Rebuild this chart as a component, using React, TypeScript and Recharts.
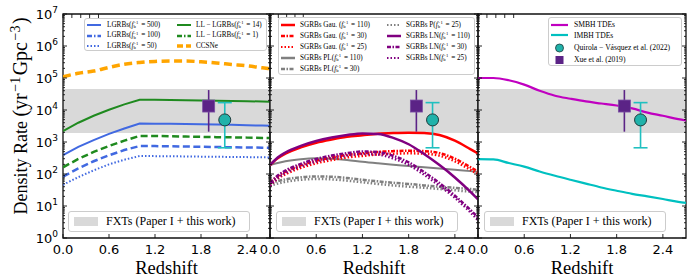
import React from 'react';
import { ComposedChart, Line, Scatter, ErrorBar, XAxis, YAxis, ReferenceArea } from 'recharts';

// redshift grids
const Z_A = [0, 0.2, 0.4, 0.6, 0.8, 1.0, 1.2, 1.4, 1.6, 1.8, 2.0, 2.2, 2.4, 2.6, 2.7];
const Z_B = [0, 0.1, 0.2, 0.4, 0.6, 0.8, 1.0, 1.2, 1.4, 1.6, 1.8, 2.0, 2.2, 2.4, 2.6, 2.7];

// panel 1: LGRBs / LL-LGRBs / CCSNe
const LGRB_500 = [390, 700, 1150, 1800, 2650, 3800, 3750, 3700, 3630, 3560, 3500, 3430, 3350, 3250, 3200];
const LGRB_100 = [83, 150, 250, 385, 560, 750, 745, 735, 722, 710, 697, 685, 675, 665, 660];
const LGRB_50 = [46, 80, 130, 200, 280, 365, 362, 358, 354, 349, 345, 341, 337, 332, 330];
const LL_14 = [2200, 4000, 6600, 10200, 15000, 21000, 20800, 20500, 20200, 19800, 19500, 19100, 18800, 18400, 18200];
const LL_1 = [162, 295, 490, 750, 1100, 1550, 1540, 1510, 1480, 1450, 1420, 1400, 1370, 1340, 1330];
const CCSNE = [110000, 140000, 165000, 215000, 270000, 305000, 330000, 340000, 340000, 320000, 295000, 265000, 240000, 208000, 195000];

// panel 2: SGRBs
const GAU_110 = [190, 310, 430, 680, 950, 1200, 1450, 1620, 1800, 1900, 1950, 1900, 1650, 1100, 600, 440];
const GAU_30 = [52, 85, 118, 186, 260, 328, 396, 442, 491, 519, 532, 519, 450, 300, 164, 120];
const GAU_25 = [43, 72, 98, 155, 216, 272, 329, 368, 409, 431, 443, 431, 375, 250, 136, 100];
const PL_110 = [190, 220, 250, 290, 308, 300, 275, 240, 215, 195, 178, 162, 148, 135, 123, 117];
const PL_30 = [52, 60, 68, 79, 84, 82, 75, 66, 59, 53, 49, 44, 40, 37, 34, 32];
const P_25 = [43, 50, 57, 66, 70, 68, 62, 55, 49, 44, 40, 37, 34, 31, 28, 27];
const LN_110 = [190, 330, 470, 760, 1080, 1380, 1650, 1850, 1780, 1350, 850, 420, 190, 78, 28, 16];
const LN_30 = [52, 90, 128, 207, 295, 377, 450, 505, 486, 369, 232, 115, 52, 21, 7.6, 4.4];
const LN_25 = [43, 75, 107, 172, 245, 313, 375, 420, 404, 306, 193, 95, 43, 18, 6.4, 3.6];

// panel 3: TDEs
const SMBH = [100000, 100000, 85000, 62000, 40000, 28000, 22500, 18500, 16000, 13800, 11200, 8300, 6600, 5200, 4700];
const IMBH = [290, 285, 220, 170, 120, 88, 66, 50, 38, 30, 24, 20, 16.5, 13.5, 12.6];

// observations
const XUE = [{ z: 1.9, v: 13300, err: [11200, 28700] }];
const QUIROLA = [{ z: 2.11, v: 4900, err: [4240, 12100] }];

// FXT band
const FXT_LOW = 1900;
const FXT_HIGH = 45000;

const X_TICKS = [0, 0.6, 1.2, 1.8, 2.4];
const Y_MAJOR = [1, 10, 100, 1000, 10000, 100000, 1000000, 10000000];
const Y_ALL = [...Y_MAJOR, ...Y_MAJOR.slice(0, 7).flatMap((d) => [2, 3, 4, 5, 6, 7, 8, 9].map((m) => m * d))].sort((a, b) => a - b);

const rows1 = Z_A.map((z, i) => ({
  z, lgrb500: LGRB_500[i], lgrb100: LGRB_100[i], lgrb50: LGRB_50[i], ll14: LL_14[i], ll1: LL_1[i], ccsne: CCSNE[i],
}));
const rows2 = Z_B.map((z, i) => ({
  z, gau110: GAU_110[i], gau30: GAU_30[i], gau25: GAU_25[i], pl110: PL_110[i], pl30: PL_30[i], p25: P_25[i],
  ln110: LN_110[i], ln30: LN_30[i], ln25: LN_25[i],
}));
const rows3 = Z_A.map((z, i) => ({ z, smbh: SMBH[i], imbh: IMBH[i] }));

const SERIF = '"Liberation Serif", serif';
const SANS = '"DejaVu Sans", sans-serif';
const FRAME = '#111';
const BAND = '#d9d9d9';

const C = {
  blue: '#4169e1', green: '#1f8a1f', orange: '#ffa500', red: '#ff0000', gray: '#808080',
  purple: '#800080', magenta: '#c000c0', cyan: '#00c0c0', teal: '#20b2aa', indigo: '#5b2386',
};
const DASH = '7 3.5';
const DOT = '1.5 2';
const DASHDOT = '4 1.5 1.5 1.5';

const isMajor = (v: number) => Math.abs(Math.log10(v) - Math.round(Math.log10(v))) < 1e-6;

// ticks point into the plot; the axis hands us the edge coordinate (tickSize 0, tickMargin 0)
const YTicks = (side: 'left' | 'right', labels: boolean) => (p: any) => {
  const v = Number(p.payload.value);
  const major = isMajor(v);
  const len = (major ? 4 : 2) * (side === 'left' ? 1 : -1);
  return (
    <g>
      <line x1={p.x} x2={p.x + len} y1={p.y} y2={p.y} stroke={FRAME} strokeWidth={0.9} />
      {labels && major && (
        <text x={p.x - 5} y={p.y + 5} textAnchor="end" fontFamily={SANS} fontSize={13} fill="#000">
          10<tspan dy={-6} fontSize={9}>{Math.round(Math.log10(v))}</tspan>
        </text>
      )}
    </g>
  );
};

const XTicks = (side: 'top' | 'bottom') => (p: any) => (
  <g>
    <line x1={p.x} x2={p.x} y1={p.y} y2={p.y + (side === 'top' ? 4 : -4)} stroke={FRAME} strokeWidth={0.9} />
    {side === 'bottom' && (
      <text x={p.x} y={p.y + 15.5} textAnchor="middle" fontFamily={SANS} fontSize={13} fill="#000">
        {Number(p.payload.value).toFixed(1)}
      </text>
    )}
  </g>
);

const axes = (leftLabels: boolean) => [
  <XAxis key="xb" dataKey="z" type="number" domain={[0, 2.7]} ticks={X_TICKS} interval={0} allowDataOverflow
    height={42} tickLine={false} axisLine={false} tickSize={0} tickMargin={0} tick={XTicks('bottom')} />,
  <XAxis key="xt" xAxisId="t" orientation="top" type="number" domain={[0, 2.7]} ticks={X_TICKS} interval={0} allowDataOverflow
    height={1} tickLine={false} axisLine={false} tickSize={0} tickMargin={0} tick={XTicks('top')} />,
  <YAxis key="yl" type="number" scale="log" domain={[1, 1e7]} ticks={Y_ALL} interval={0} allowDataOverflow
    width={leftLabels ? 63 : 1} tickLine={false} axisLine={false} tickSize={0} tickMargin={0} tick={YTicks('left', leftLabels)} />,
  <YAxis key="yr" yAxisId="r" orientation="right" type="number" scale="log" domain={[1, 1e7]} ticks={Y_ALL} interval={0} allowDataOverflow
    width={1} tickLine={false} axisLine={false} tickSize={0} tickMargin={0} tick={YTicks('right', false)} />,
];

const band = () => <ReferenceArea y1={FXT_LOW} y2={FXT_HIGH} fill={BAND} fillOpacity={1} stroke="none" ifOverflow="visible" />;
const frame = () => <ReferenceArea x1={0} x2={2.7} y1={1} y2={1e7} fill="none" fillOpacity={0} stroke={FRAME} strokeWidth={1.3} ifOverflow="visible" />;

const observations = () => [
  <Scatter key="xue" data={XUE} dataKey="v" isAnimationActive={false}
    shape={(p: any) => <rect x={p.cx - 6} y={p.cy - 6} width={12} height={12} fill={C.indigo} stroke="#7a4ea3" strokeWidth={0.8} />}>
    <ErrorBar dataKey="err" direction="y" width={0} stroke={C.indigo} strokeWidth={1.6} />
  </Scatter>,
  <Scatter key="quirola" data={QUIROLA} dataKey="v" isAnimationActive={false}
    shape={(p: any) => <circle cx={p.cx} cy={p.cy} r={6} fill={C.teal} stroke="#1d3b3b" strokeWidth={1} />}>
    <ErrorBar dataKey="err" direction="y" width={7} stroke="#20c0c0" strokeWidth={1.6} />
  </Scatter>,
];

const ln = (key: string, color: string, width: number, dash?: string, type: any = 'monotone') => (
  <Line key={key} dataKey={key} type={type} stroke={color} strokeWidth={width} strokeDasharray={dash} dot={false} isAnimationActive={false} />
);

// ---- legend helpers ----
type Sty = { color: string; width: number; dash?: string; marker?: 'circle' | 'square' };

const Fb = ({ v }: { v: string }) => (
  <>
    <i>f</i>
    <span style={{ display: 'inline-flex', flexDirection: 'column', fontSize: '0.65em', lineHeight: 0.85, verticalAlign: 'middle', marginRight: 1 }}>
      <span>−1</span>
      <span>b</span>
    </span>
    {' = ' + v + ')'}
  </>
);

const Item = ({ x, y, w, tx, s, children, fs }: { x: number; y: number; w: number; tx: number; s: Sty; children: any; fs: number }) => (
  <>
    <svg width={w} height={10} style={{ position: 'absolute', left: x, top: y - 5 }}>
      {s.marker === 'circle' ? (
        <circle cx={w / 2} cy={5} r={4} fill={C.teal} stroke="#1d3b3b" strokeWidth={0.8} />
      ) : s.marker === 'square' ? (
        <rect x={w / 2 - 4} y={1} width={8} height={8} fill={C.indigo} />
      ) : (
        <line x1={0} y1={5} x2={w} y2={5} stroke={s.color} strokeWidth={s.width} strokeDasharray={s.dash} />
      )}
    </svg>
    <div style={{ position: 'absolute', left: tx, top: y - fs * 0.62, fontFamily: SERIF, fontSize: fs, lineHeight: 1.2, whiteSpace: 'nowrap', color: '#000' }}>
      {children}
    </div>
  </>
);

const Box = ({ left, top, width, height, children }: any) => (
  <div style={{ position: 'absolute', left, top, width, height, background: 'rgba(255,255,255,0.85)', border: '1px solid #cccccc', borderRadius: 3, boxSizing: 'border-box' }}>
    {children}
  </div>
);

const FxtLegend = ({ left }: { left: number }) => (
  <Box left={left} top={211} width={182} height={21}>
    <div style={{ position: 'absolute', left: 5, top: 5, width: 24, height: 9, background: BAND }} />
    <div style={{ position: 'absolute', left: 37, top: 2, fontFamily: SERIF, fontSize: 12, whiteSpace: 'nowrap' }}>FXTs (Paper I + this work)</div>
  </Box>
);

const PANEL_CENTERS = [166.5, 374, 582];

export default function App() {
  return (
    <div style={{ position: 'absolute', left: 0, top: 0, width: 700, height: 280, background: '#fff', overflow: 'hidden' }}>
      {/* panel 1 */}
      <div style={{ position: 'absolute', left: 0, top: 0 }}>
        <ComposedChart width={280} height={280} data={rows1} margin={{ top: 13, right: 9, left: 0, bottom: 0 }}>
          {axes(true)}
          {band()}
          {ln('ccsne', C.orange, 3.5, '8 4.5')}
          {ln('ll14', C.green, 2, undefined, 'linear')}
          {ln('ll1', C.green, 2.5, DASH, 'linear')}
          {ln('lgrb500', C.blue, 2, undefined, 'linear')}
          {ln('lgrb100', C.blue, 2.5, DASH, 'linear')}
          {ln('lgrb50', C.blue, 2, DOT, 'linear')}
          {observations()}
          {frame()}
        </ComposedChart>
      </div>
      {/* panel 2 */}
      <div style={{ position: 'absolute', left: 250, top: 0 }}>
        <ComposedChart width={240} height={280} data={rows2} margin={{ top: 13, right: 11, left: 19, bottom: 0 }}>
          {axes(false)}
          {band()}
          {ln('pl110', C.gray, 2)}
          {ln('pl30', C.gray, 2.5, DASHDOT)}
          {ln('p25', C.gray, 2.5, DOT)}
          {ln('gau110', C.red, 2.5)}
          {ln('gau30', C.red, 2.5, DASHDOT)}
          {ln('gau25', C.red, 2.5, DOT)}
          {ln('ln110', C.purple, 2.5)}
          {ln('ln30', C.purple, 2.5, DASHDOT)}
          {ln('ln25', C.purple, 2.5, DOT)}
          {observations()}
          {frame()}
        </ComposedChart>
      </div>
      {/* panel 3 */}
      <div style={{ position: 'absolute', left: 458, top: 0 }}>
        <ComposedChart width={242} height={280} data={rows3} margin={{ top: 13, right: 13, left: 19, bottom: 0 }}>
          {axes(false)}
          {band()}
          {ln('smbh', C.magenta, 2.2)}
          {ln('imbh', C.cyan, 2.2)}
          {observations()}
          {frame()}
        </ComposedChart>
      </div>

      {/* axis titles */}
      <svg width={700} height={280} style={{ position: 'absolute', left: 0, top: 0, pointerEvents: 'none' }}>
        <text transform="translate(26.5,116) rotate(-90)" textAnchor="middle" fontFamily={SERIF} fontSize={18} fill="#000">
          Density Rate <tspan fontSize={20}>(yr</tspan>
          <tspan dx={1.5} dy={-7} fontSize={14}>−1</tspan>
          <tspan dx={1.5} dy={7} fontSize={20}>Gpc</tspan>
          <tspan dx={1.5} dy={-7} fontSize={14}>−3</tspan>
          <tspan dx={1.5} dy={7} fontSize={20}>)</tspan>
        </text>
        {PANEL_CENTERS.map((cx) => (
          <text key={cx} x={cx} y={273.5} textAnchor="middle" fontFamily={SERIF} fontSize={18.5} fill="#000">
            Redshift
          </text>
        ))}
      </svg>

      {/* legends */}
      <Box left={84} top={18} width={183} height={33}>
        <Item x={2} y={6} w={14} tx={22} fs={7.2} s={{ color: C.blue, width: 2 }}>LGRBs(<Fb v="500" /></Item>
        <Item x={2} y={16.7} w={14} tx={22} fs={7.2} s={{ color: C.blue, width: 2.5, dash: '5 2 1.5 2' }}>LGRBs(<Fb v="100" /></Item>
        <Item x={2} y={27.4} w={14} tx={22} fs={7.2} s={{ color: C.blue, width: 2, dash: DOT }}>LGRBs(<Fb v="50" /></Item>
        <Item x={92} y={6} w={14} tx={111} fs={7.2} s={{ color: C.green, width: 2 }}>LL − LGRBs(<Fb v="14" /></Item>
        <Item x={92} y={16.7} w={14} tx={111} fs={7.2} s={{ color: C.green, width: 2.5, dash: '5 2 1.5 2' }}>LL − LGRBs(<Fb v="1" /></Item>
        <Item x={92} y={27.4} w={14} tx={111} fs={7.2} s={{ color: C.orange, width: 3.5, dash: '6 3' }}>CCSNe</Item>
      </Box>
      <Box left={278} top={17} width={197} height={58}>
        <Item x={2} y={7} w={14} tx={21} fs={7.2} s={{ color: C.red, width: 2.5 }}>SGRBs Gau. (<Fb v="110" /></Item>
        <Item x={2} y={18.1} w={14} tx={21} fs={7.2} s={{ color: C.red, width: 2.5, dash: DASHDOT }}>SGRBs Gau. (<Fb v="30" /></Item>
        <Item x={2} y={29.2} w={14} tx={21} fs={7.2} s={{ color: C.red, width: 2, dash: DOT }}>SGRBs Gau. (<Fb v="25" /></Item>
        <Item x={2} y={40.3} w={14} tx={21} fs={7.2} s={{ color: C.gray, width: 2.5 }}>SGRBs PL(<Fb v="110" /></Item>
        <Item x={2} y={51.4} w={14} tx={21} fs={7.2} s={{ color: C.gray, width: 2.5, dash: DASHDOT }}>SGRBs PL(<Fb v="30" /></Item>
        <Item x={108} y={7} w={14} tx={127} fs={7.2} s={{ color: C.gray, width: 2, dash: DOT }}>SGRBs P(<Fb v="25" /></Item>
        <Item x={108} y={18.1} w={14} tx={127} fs={7.2} s={{ color: C.purple, width: 2.5 }}>SGRBs LN(<Fb v="110" /></Item>
        <Item x={108} y={29.2} w={14} tx={127} fs={7.2} s={{ color: C.purple, width: 2.5, dash: DASHDOT }}>SGRBs LN(<Fb v="30" /></Item>
        <Item x={108} y={40.3} w={14} tx={127} fs={7.2} s={{ color: C.purple, width: 2, dash: DOT }}>SGRBs LN(<Fb v="25" /></Item>
      </Box>
      <Box left={548} top={17} width={134} height={49}>
        <Item x={2} y={7} w={17} tx={25} fs={7.6} s={{ color: C.magenta, width: 2.2 }}>SMBH TDEs</Item>
        <Item x={2} y={17.3} w={17} tx={25} fs={7.6} s={{ color: C.cyan, width: 2.2 }}>IMBH TDEs</Item>
        <Item x={2} y={30} w={17} tx={25} fs={7.6} s={{ color: C.teal, width: 1, marker: 'circle' }}>Quirola − Vásquez et al.  (2022)</Item>
        <Item x={2} y={42} w={17} tx={25} fs={7.6} s={{ color: C.indigo, width: 1, marker: 'square' }}>Xue et al.  (2019)</Item>
      </Box>
      <FxtLegend left={68} />
      <FxtLegend left={276} />
      <FxtLegend left={484} />
    </div>
  );
}
